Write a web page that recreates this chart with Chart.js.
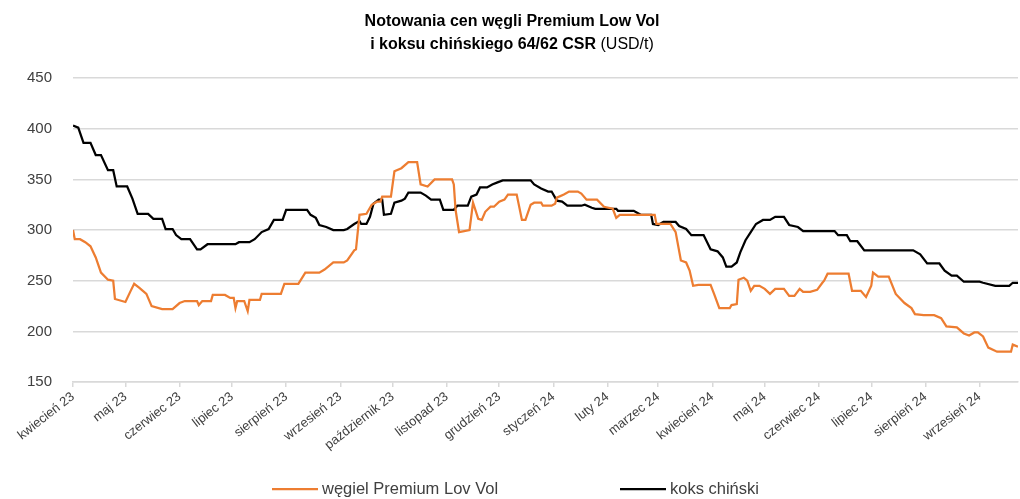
<!DOCTYPE html>
<html lang="pl">
<head>
<meta charset="utf-8">
<title>Notowania cen węgli Premium Low Vol i koksu chińskiego</title>
<script src="https://cdn.jsdelivr.net/npm/chart.js@4.4.1/dist/chart.umd.min.js"></script>
<style>
  html, body { margin: 0; padding: 0; background: #fff; }
  #wrap { width: 1020px; height: 499px; }
</style>
</head>
<body>
<div id="wrap"><canvas id="wykres"></canvas></div>
<script>
// os X: dni liczone od 1 kwietnia 2023
const miesiaceDni = [0, 30, 61, 91, 122, 153, 183, 214, 244, 275, 306, 335, 366, 396, 427, 457, 488, 519];
const miesiaceEtykiety = ['kwiecień 23', 'maj 23', 'czerwiec 23', 'lipiec 23', 'sierpień 23', 'wrzesień 23',
  'październik 23', 'listopad 23', 'grudzień 23', 'styczeń 24', 'luty 24', 'marzec 24',
  'kwiecień 24', 'maj 24', 'czerwiec 24', 'lipiec 24', 'sierpień 24', 'wrzesień 24'];

// węgiel Premium Low Vol (USD/t)
const wegielDni = [0, 1, 4, 7, 10, 13, 16, 20, 23, 24, 30, 33, 35, 38, 42, 45, 51, 57, 61, 64, 71, 72, 74, 79, 80, 87, 90, 92, 93, 94, 98, 100, 101, 107,
  108, 119, 121, 129, 133, 141, 144, 149, 155, 157, 161, 162, 164, 168, 171, 174, 176, 177, 182, 184, 188, 192, 197, 199, 203, 207, 217, 218, 219, 221,
  227, 229, 232, 234, 236, 239, 241, 244, 247, 249, 254, 257, 259, 262, 264, 268, 269, 274, 276, 277, 281, 284, 289, 291, 294, 300, 304, 309, 311, 313,
  333, 334, 342, 345, 348, 351, 353, 355, 358, 365, 367, 370, 376, 377, 380, 381, 384, 386, 388, 390, 393, 396, 399, 402, 407, 410, 413, 416, 418, 422,
  426, 429, 430, 432, 444, 446, 451, 454, 457, 458, 461, 467, 471, 476, 480, 482, 487, 493, 497, 500, 506, 510, 513, 516, 518, 521, 524, 529, 537, 538, 541];
const wegielCeny = [300, 291, 291, 288, 284, 273, 258, 251, 250, 232, 229, 240, 247, 243, 237, 225, 222, 222, 228, 230, 230, 226, 230, 230, 236, 236, 233, 233, 223, 230, 230, 220, 231, 231,
  237, 237, 247, 247, 258, 258, 261, 268, 268, 270, 280, 281, 315, 316, 325, 328, 328, 333, 333, 358, 361, 367, 367, 345, 343, 350, 350, 345, 320, 298,
  300, 327, 311, 310, 318, 323, 323, 328, 330, 335, 335, 310, 310, 325, 327, 327, 324, 324, 326, 332, 335, 338, 338, 336, 330, 330, 323, 321, 312, 315,
  315, 306, 306, 298, 270, 268, 260, 245, 246, 246, 237, 223, 223, 226, 227, 251, 253, 250, 240, 245, 245, 242, 237, 242, 242, 235, 235, 242, 239, 239,
  241, 248, 250, 257, 257, 240, 240, 234, 245, 258, 254, 254, 237, 228, 223, 217, 216, 216, 213, 205, 204, 198, 196, 199, 199, 195, 184, 180, 180, 187, 185];

// koks chiński 64/62 CSR (USD/t)
const koksDni = [0, 3, 6, 10, 13, 16, 20, 23, 25, 31, 34, 37, 43, 46, 51, 53, 57, 59, 62, 67, 71, 73, 77, 93, 95, 101, 104, 108, 112, 115, 120, 122,
  134, 136, 139, 141, 145, 149, 155, 157, 161, 164, 165, 168, 170, 172, 175, 177, 178, 182, 184, 188, 190, 192, 199, 202, 205, 210, 212, 218, 220, 226,
  228, 231, 233, 237, 240, 243, 246, 262, 264, 268, 272, 274, 277, 280, 283, 291, 293, 297, 299, 311, 312, 321, 325, 331, 332, 335, 338, 345, 347, 351,
  354, 361, 365, 369, 372, 374, 377, 380, 382, 385, 388, 391, 395, 399, 402, 407, 410, 415, 418, 436, 438, 443, 445, 449, 453, 481, 485, 489, 496, 499,
  503, 506, 510, 519, 521, 528, 536, 538, 541];
const koksCeny = [403, 401, 386, 386, 374, 374, 359, 359, 343, 343, 331, 316, 316, 311, 311, 301, 301, 295, 291, 291, 281, 281, 286, 286, 288, 288, 291, 298, 301, 310, 310, 320,
  320, 315, 312, 305, 303, 300, 300, 301, 306, 309, 306, 306, 313, 326, 330, 330, 315, 316, 327, 329, 331, 337, 337, 334, 330, 330, 320, 320, 324, 324,
  333, 335, 342, 342, 345, 347, 349, 349, 345, 341, 338, 338, 329, 328, 324, 324, 325, 322, 321, 321, 319, 319, 315, 315, 306, 305, 308, 308, 304, 301,
  295, 295, 281, 279, 273, 264, 264, 268, 278, 290, 298, 306, 310, 310, 313, 313, 305, 303, 299, 299, 295, 295, 289, 289, 280, 280, 276, 267, 267, 260,
  255, 255, 249, 249, 248, 245, 245, 248, 248];

const FONT = '"Liberation Sans", Arial, sans-serif';
const SZARY = '#404040';

// tytuł w dwóch liniach, "(USD/t)" bez pogrubienia
const tytul = {
  id: 'tytul',
  afterDraw(chart) {
    const ctx = chart.ctx;
    const cx = chart.width / 2 + 2;
    ctx.save();
    ctx.fillStyle = '#000';
    ctx.textBaseline = 'middle';
    ctx.textAlign = 'center';
    ctx.font = 'bold 16px ' + FONT;
    ctx.fillText('Notowania cen węgli Premium Low Vol', cx, 22);

    const a = 'i koksu chińskiego 64/62 CSR';
    const b = ' (USD/t)';
    const wa = ctx.measureText(a).width;
    ctx.font = '16px ' + FONT;
    const wb = ctx.measureText(b).width;
    const x0 = cx - (wa + wb) / 2;
    ctx.textAlign = 'left';
    ctx.font = 'bold 16px ' + FONT;
    ctx.fillText(a, x0, 45);
    ctx.font = '16px ' + FONT;
    ctx.fillText(b, x0 + wa, 45);
    ctx.restore();
  }
};

// legenda na dole, szeroko rozstawiona
const legenda = {
  id: 'legenda',
  afterDraw(chart) {
    const ctx = chart.ctx;
    const cx = chart.width / 2;
    const y = 489;
    const miejsca = [cx - 238, cx + 110];
    ctx.save();
    ctx.font = '16.5px ' + FONT;
    ctx.textBaseline = 'middle';
    ctx.textAlign = 'left';
    chart.data.datasets.forEach((ds, i) => {
      const x = miejsca[i];
      ctx.strokeStyle = ds.borderColor;
      ctx.lineWidth = 2.25;
      ctx.beginPath();
      ctx.moveTo(x, y);
      ctx.lineTo(x + 46, y);
      ctx.stroke();
      ctx.fillStyle = SZARY;
      ctx.fillText(ds.label, x + 50, y);
    });
    ctx.restore();
  }
};

function punkty(dni, ceny) {
  return dni.map((d, i) => ({ x: d, y: ceny[i] }));
}

document.addEventListener('DOMContentLoaded', () => {
  Chart.defaults.font.family = FONT;

  new Chart(document.getElementById('wykres'), {
    type: 'line',
    data: {
      datasets: [{
        label: 'węgiel Premium Lov Vol',
        data: punkty(wegielDni, wegielCeny),
        borderColor: '#ED7D31',
        borderWidth: 2.25,
        pointRadius: 0,
        tension: 0
      },
      {
        label: 'koks chiński',
        data: punkty(koksDni, koksCeny),
        borderColor: '#000000',
        borderWidth: 2.25,
        pointRadius: 0,
        tension: 0
      }]
    },
    options: {
      responsive: true,
      maintainAspectRatio: false,
      animation: false,
      layout: { padding: { top: 78, left: 6, right: 2, bottom: 44 } },
      plugins: {
        legend: { display: false },
        tooltip: { enabled: false }
      },
      scales: {
        x: {
          type: 'linear',
          min: 0,
          max: 541,
          afterBuildTicks: (axis) => {
            axis.ticks = miesiaceDni.map((d) => ({ value: d }));
          },
          ticks: {
            autoSkip: false,
            minRotation: 38,
            maxRotation: 38,
            padding: 2,
            color: SZARY,
            font: { size: 13 },
            callback: (v, i) => miesiaceEtykiety[i]
          },
          grid: { drawOnChartArea: false, tickLength: 5, color: '#d9d9d9', lineWidth: 1.5 },
          border: { color: '#d9d9d9', width: 1.5 }
        },
        y: {
          min: 150,
          max: 450,
          ticks: { stepSize: 50, padding: 21, color: SZARY, font: { size: 15 } },
          grid: { color: '#d9d9d9', lineWidth: 1.5, drawTicks: false },
          border: { display: false }
        }
      }
    },
    plugins: [tytul, legenda]
  });
});
</script>
</body>
</html>
